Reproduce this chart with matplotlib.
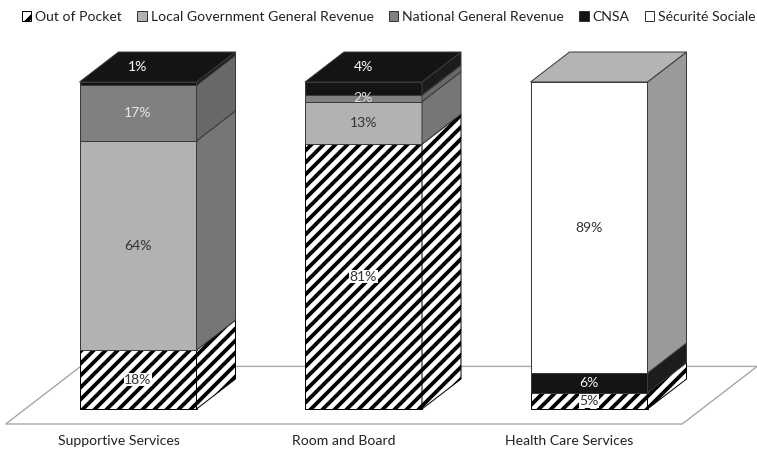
import matplotlib
matplotlib.use("Agg")
import matplotlib.pyplot as plt
from matplotlib.patches import Polygon, Patch

categories = ["Supportive Services", "Room and Board", "Health Care Services"]
series_names = ["Out of Pocket", "Local Government General Revenue",
                "National General Revenue", "CNSA", "Sécurité Sociale"]
out_of_pocket = [18, 81, 5]
local_gov = [64, 13, 0]
national_rev = [17, 2, 0]
cnsa = [1, 4, 6]
securite = [0, 0, 89]
series_values = [out_of_pocket, local_gov, national_rev, cnsa, securite]

# styles: front, side, top, hatch, label colour
front_col = ["white", "#b2b2b2", "#808080", "#141414", "white"]
side_col = ["white", "#767676", "#686868", "#1c1c1c", "#9a9a9a"]
top_col = ["white", "#bcbcbc", "#8a8a8a", "#141414", "#b4b4b4"]
hatches = ["//", None, None, None, None]
label_col = ["#333333", "#333333", "#e6e6e6", "#f2f2f2", "#333333"]

plt.rcParams['font.family'] = ['Lato', 'DejaVu Sans']
plt.rcParams['hatch.linewidth'] = 3.8

DPI = 72
W_PX, H_PX = 757, 450
fig = plt.figure(figsize=(W_PX / DPI, H_PX / DPI), dpi=DPI)
ax = fig.add_axes([0, 0, 1, 1])
ax.axis("off")

# layout (pixels)
x0_px, step_px = 138.0, 225.5
y0_px_from_bottom, pct_px = 41.0, 3.27
ax.set_xlim(-x0_px / step_px, (W_PX - x0_px) / step_px)
ax.set_ylim(-y0_px_from_bottom / pct_px, (H_PX - y0_px_from_bottom) / pct_px)
DX = 39.0 / step_px
DY = 30.0 / pct_px
BW = 117.0 / step_px
EDGE = "#3a3a3a"

# floor
f, b = -0.5, 1.42
n = len(categories)
floor = Polygon([(-0.5 + f * DX, f * DY), (n - 0.5 + f * DX, f * DY),
                 (n - 0.5 + b * DX, b * DY), (-0.5 + b * DX, b * DY)],
                closed=True, facecolor="white", edgecolor="#a8a8a8", lw=1.4, zorder=1)
ax.add_patch(floor)

for i, cat in enumerate(categories):
    bottom = 0.0
    segs = [(k, series_values[k][i]) for k in range(len(series_values)) if series_values[k][i] > 0]
    for j, (k, v) in enumerate(segs):
        ec = "black" if hatches[k] else EDGE
        ax.bar(i, v, bottom=bottom, width=BW, color=front_col[k], edgecolor=ec,
               hatch=hatches[k], lw=1.0, zorder=3)
        xr = i + BW / 2
        side = Polygon([(xr, bottom), (xr + DX, bottom + DY), (xr + DX, bottom + v + DY), (xr, bottom + v)],
                       closed=True, facecolor=side_col[k], edgecolor=ec, hatch=hatches[k], lw=1.0, zorder=3)
        ax.add_patch(side)
        top = bottom + v
        is_top = (j == len(segs) - 1)
        if is_top:
            xl = i - BW / 2
            tp = Polygon([(xl, top), (xr, top), (xr + DX, top + DY), (xl + DX, top + DY)],
                         closed=True, facecolor=top_col[k], edgecolor=EDGE, lw=1.0, zorder=3)
            ax.add_patch(tp)
        # label
        ly = bottom + v / 2
        if is_top and v < 5:
            ly = top + DY / 2
        kw = {}
        if hatches[k]:
            kw["bbox"] = dict(boxstyle="square,pad=0.05", facecolor="white", edgecolor="none")
        ax.text(i, ly, f"{v}%", ha="center", va="center", fontsize=14,
                color=label_col[k] if not (is_top and v < 5 and k == 3) else "white",
                zorder=5, **kw)
        bottom = top
    ax.text(i + f * DX, f * DY - 17 / pct_px, cat, ha="center", va="center",
            fontsize=14, color="#222222")

handles = [Patch(facecolor=front_col[k], edgecolor="black" if hatches[k] else "#333333",
                 hatch="/" if hatches[k] else None, lw=1.0) for k in range(len(series_names))]
fig.legend(handles, series_names, loc="center", bbox_to_anchor=(389 / W_PX, 1 - 17 / H_PX),
           ncol=5, frameon=False, fontsize=14, handlelength=0.65, handleheight=0.65,
           handletextpad=0.3, columnspacing=1.1, borderaxespad=0, labelcolor="#222222")

fig.savefig("out.png", dpi=DPI)
